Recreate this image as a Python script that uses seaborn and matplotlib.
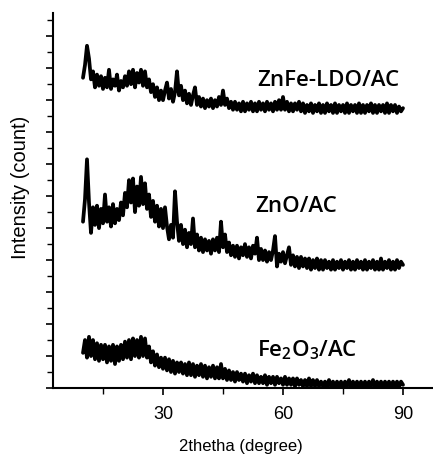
import numpy as np
import pandas as pd
import seaborn as sns
import matplotlib.pyplot as plt
from matplotlib.ticker import MultipleLocator

# scan grid, 0.5 degree step
two_theta = np.arange(10, 90.01, 0.5)

# intensities (offset, arbitrary units)
znfe_ldo = [
    19.4, 20.2, 21.4, 20.6, 19.3, 19.8, 18.8, 19.6, 18.9, 19.5,
    18.7, 19.4, 18.8, 19.9, 18.7, 19.3, 18.9, 19.6, 18.6, 19.2,
    18.8, 19.5, 18.9, 19.8, 19.0, 19.9, 18.8, 19.7, 19.1, 19.9,
    18.9, 19.8, 18.8, 19.3, 18.5, 19.0, 18.2, 18.8, 18.0, 18.6,
    18.0, 18.6, 19.1, 18.1, 18.7, 17.9, 18.5, 19.8, 18.3, 18.9,
    18.0, 18.6, 17.8, 18.4, 17.7, 18.3, 18.8, 17.7, 18.2, 17.6,
    18.1, 17.5, 18.0, 17.6, 18.1, 17.5, 18.0, 17.6, 18.2, 17.7,
    18.6, 17.7, 18.1, 17.5, 17.9, 17.4, 17.9, 17.4, 17.8, 17.3,
    17.9, 17.3, 17.8, 17.4, 17.9, 17.3, 17.8, 17.3, 17.9, 17.4,
    17.8, 17.3, 17.9, 17.4, 17.8, 17.3, 17.9, 17.4, 18.0, 17.4,
    18.2, 17.4, 17.9, 17.3, 17.8, 17.3, 17.8, 17.4, 17.9, 17.3,
    17.8, 17.2, 17.7, 17.3, 17.8, 17.2, 17.7, 17.3, 17.8, 17.2,
    17.7, 17.2, 17.8, 17.3, 17.7, 17.2, 17.8, 17.2, 17.7, 17.3,
    17.7, 17.2, 17.8, 17.2, 17.7, 17.3, 17.7, 17.2, 17.8, 17.2,
    17.7, 17.2, 17.7, 17.3, 17.8, 17.2, 17.7, 17.2, 17.7, 17.3,
    17.7, 17.2, 17.8, 17.2, 17.7, 17.3, 17.7, 17.2, 17.6, 17.3,
    17.5,
]

zno = [
    10.4, 11.8, 14.3, 11.6, 9.7, 11.3, 10.2, 11.4, 10.0, 11.2,
    10.3, 12.1, 10.4, 11.3, 10.1, 11.5, 10.3, 11.2, 10.5, 11.6,
    10.8, 12.2, 11.3, 13.0, 11.6, 13.1, 11.0, 12.6, 11.4, 13.2,
    11.5, 12.8, 11.2, 12.1, 10.7, 11.7, 10.4, 11.4, 10.1, 11.2,
    10.0, 11.3, 10.1, 9.3, 10.2, 9.4, 12.3, 10.4, 9.2, 10.2,
    9.0, 9.9, 8.8, 9.7, 9.0, 10.6, 8.8, 9.6, 8.6, 9.4,
    8.5, 9.3, 8.6, 9.2, 8.4, 9.3, 8.6, 9.4, 8.5, 10.4,
    8.8, 9.6, 8.5, 9.1, 8.3, 8.9, 8.2, 8.9, 8.1, 8.8,
    8.3, 9.0, 8.2, 8.8, 8.1, 8.9, 8.4, 9.4, 8.0, 8.7,
    8.0, 8.6, 7.9, 8.5, 8.0, 8.6, 9.5, 7.6, 8.4, 7.9,
    8.5, 7.8, 8.3, 8.8, 7.7, 8.3, 7.6, 8.2, 7.5, 8.2,
    7.6, 8.1, 7.5, 8.1, 7.4, 8.0, 7.5, 8.1, 7.4, 8.0,
    7.4, 8.0, 7.5, 7.9, 7.4, 8.0, 7.4, 7.9, 7.5, 8.0,
    7.4, 7.9, 7.5, 8.0, 7.4, 7.9, 7.4, 8.0, 7.5, 7.9,
    7.4, 8.0, 7.4, 7.9, 7.5, 8.0, 7.4, 7.9, 7.4, 8.1,
    7.4, 7.9, 7.5, 8.0, 7.4, 7.9, 7.4, 8.0, 7.5, 7.9,
    7.7,
]

fe2o3 = [
    2.2, 3.0, 1.9, 3.2, 2.0, 3.0, 1.8, 2.8, 1.7, 2.7,
    1.8, 2.7, 1.6, 2.6, 1.7, 2.7, 1.5, 2.6, 1.7, 2.7,
    1.8, 2.9, 1.9, 3.0, 1.8, 3.1, 2.0, 3.0, 1.9, 3.2,
    2.0, 3.1, 1.9, 2.6, 1.6, 2.3, 1.4, 2.1, 1.3, 1.9,
    1.2, 1.9, 1.1, 1.8, 1.0, 1.7, 0.9, 1.6, 1.0, 1.6,
    0.9, 1.5, 0.8, 1.6, 0.8, 1.5, 0.7, 1.4, 0.8, 1.5,
    0.7, 1.4, 0.6, 1.3, 0.7, 1.4, 0.6, 1.3, 0.6, 1.5,
    0.6, 1.2, 0.5, 1.1, 0.5, 1.0, 0.4, 1.0, 0.5, 0.9,
    0.4, 0.9, 0.3, 0.8, 0.4, 0.9, 0.3, 0.8, 0.3, 0.7,
    0.3, 0.8, 0.2, 0.7, 0.3, 0.7, 0.2, 0.7, 0.3, 0.6,
    0.2, 0.7, 0.2, 0.6, 0.2, 0.6, 0.1, 0.6, 0.2, 0.5,
    0.1, 0.5, 0.1, 0.6, 0.1, 0.5, 0.1, 0.5, 0.1, 0.4,
    0.1, 0.4, 0.05, 0.5, 0.1, 0.4, 0.05, 0.4, 0.1, 0.4,
    0.05, 0.4, 0.1, 0.5, 0.05, 0.4, 0.1, 0.4, 0.05, 0.4,
    0.1, 0.4, 0.05, 0.4, 0.1, 0.5, 0.05, 0.4, 0.1, 0.4,
    0.05, 0.4, 0.1, 0.4, 0.05, 0.4, 0.1, 0.4, 0.05, 0.4,
    0.2,
]

samples = ['ZnFe-LDO/AC', 'ZnO/AC', 'Fe$_2$O$_3$/AC']
label_pos = [(53.5, 19.3), (53.0, 11.4), (53.5, 2.4)]

df = pd.concat([
    pd.DataFrame({'two_theta': two_theta, 'intensity': y, 'sample': s})
    for s, y in zip(samples, [znfe_ldo, zno, fe2o3])
])

sns.set_style('ticks')
plt.rcParams['font.family'] = ['Liberation Sans', 'DejaVu Sans']
plt.rcParams['mathtext.default'] = 'regular'
plt.rcParams['text.color'] = 'black'
plt.rcParams['axes.labelcolor'] = 'black'
plt.rcParams['xtick.color'] = 'black'
plt.rcParams['ytick.color'] = 'black'

fig = plt.figure(figsize=(4.33, 4.56), dpi=100)
ax = fig.add_axes([0.1224, 0.1469, 0.8776, 0.8224])

sns.lineplot(data=df, x='two_theta', y='intensity', hue='sample', units='sample',
             estimator=None, sort=False, palette=['black'] * 3, legend=False,
             linewidth=2.7, ax=ax)

for s, (tx, ty) in zip(samples, label_pos):
    ax.text(tx, ty, s, fontsize=16, fontfamily='Open Sans', fontweight='semibold',
            color='black', va='center', ha='left')

ax.set_xlim(2.5, 97.5)
ax.set_ylim(0, 23.45)
ax.xaxis.set_major_locator(MultipleLocator(30))
ax.xaxis.set_minor_locator(MultipleLocator(15))
ax.yaxis.set_major_locator(MultipleLocator(2))
ax.yaxis.set_minor_locator(MultipleLocator(1))
ax.set_xticks([30, 60, 90])
ax.tick_params(axis='both', which='major', direction='out', length=5, width=1.2,
               labelsize=13, pad=7)
ax.tick_params(axis='both', which='minor', direction='out', length=4, width=1.0)
ax.tick_params(axis='y', which='both', labelleft=False)
sns.despine(ax=ax)
for sp in ['left', 'bottom']:
    ax.spines[sp].set_linewidth(1.5)
    ax.spines[sp].set_color('black')

ax.set_xlabel('2thetha (degree)', fontsize=12)
ax.set_ylabel('Intensity (count)', fontsize=14.5)
ax.xaxis.set_label_coords(0.495, -0.133)
ax.yaxis.set_label_coords(-0.061, 0.539)

fig.savefig('out.png', dpi=100)
